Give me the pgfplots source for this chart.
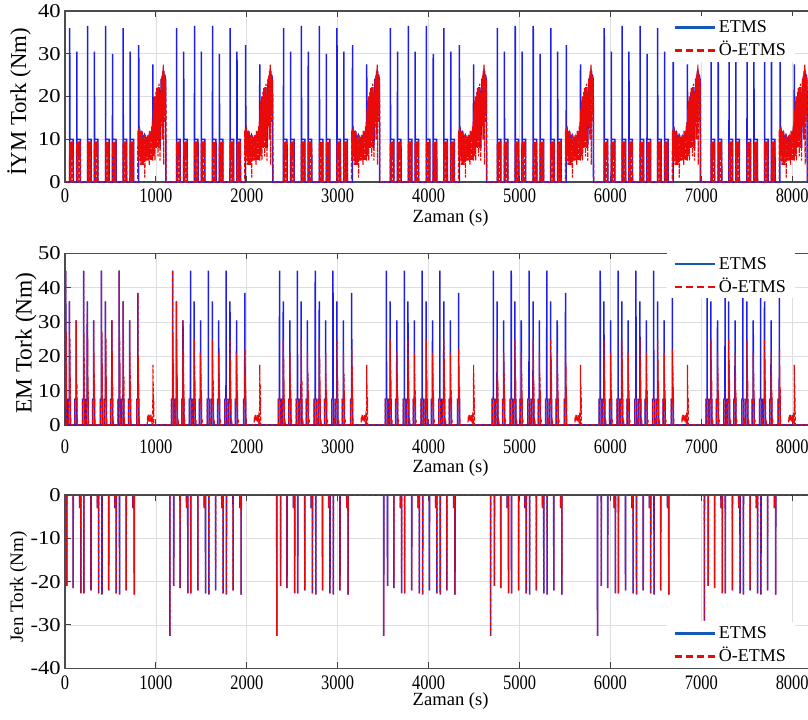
\documentclass[border=0pt]{standalone}
\usepackage{pgfplots}
\pgfplotsset{compat=1.18}
\usepackage{pgfplotstable}
\usepackage{fontspec}
\setmainfont{Liberation Serif}
\newfontfamily\xtickfont{Liberation Serif}[FakeStretch=0.8]
\newfontfamily\ytickfont{Liberation Serif}[FakeStretch=1.15]
\definecolor{dblue}{RGB}{30,30,230}
\definecolor{dred}{RGB}{235,10,10}
\definecolor{legblue}{RGB}{20,90,180}

% ---------- ICE torque, one drive cycle (local time, s) ----------
\pgfplotstableread[row sep=\\]{t v\\
0 0\\ 51 0\\ 52 36\\ 53 10\\ 90 10\\ 91 0\\
129 0\\ 130 30.5\\ 131 10\\ 168 10\\ 169 0\\
248 0\\ 249 36.5\\ 250 10\\ 287 10\\ 288 0\\
323 0\\ 324 30.5\\ 325 10\\ 362 10\\ 363 0\\
446 0\\ 447 36.5\\ 448 10\\ 485 10\\ 486 0\\
522 0\\ 523 30\\ 524 10\\ 561 10\\ 562 0\\
639 0\\ 640 36\\ 641 10\\ 678 10\\ 679 0\\
715 0\\ 716 30.5\\ 717 10\\ 754 10\\ 755 0\\
809 0\\ 811 32\\ 813 11\\ 822 12\\ 832 10.5\\ 845 11.5\\ 860 10\\ 875 11\\ 890 10\\ 905 9.5\\ 915 10.5\\ 925 9.5\\ 935 10\\ 945 11\\ 955 12\\ 965 13\\ 967 27.5\\ 969 13\\ 978 19\\ 982 8\\ 990 19\\ 998 10\\ 1006 21\\ 1014 10\\ 1026 22\\ 1034 22\\ 1046 8\\ 1058 24\\ 1066 24\\ 1074 25\\ 1082 26\\ 1090 25\\ 1098 25\\ 1106 24\\ 1110 0\\ 1176 0\\
}\iceB
\pgfplotstableread[row sep=\\]{t v\\
0 0\\
50 0\\ 51 9\\ 54 6\\ 57 9.5\\ 60 6\\ 63 9.5\\ 65 0\\ 67 9\\ 70 6\\ 73 9.5\\ 76 6\\ 79 9.5\\ 81 0\\ 83 9\\ 86 6\\ 89 9.5\\ 91 0\\
128 0\\ 129 9\\ 132 6\\ 135 9.5\\ 138 6\\ 141 9.5\\ 143 0\\ 145 9\\ 148 6\\ 151 9.5\\ 154 6\\ 157 9.5\\ 159 0\\ 161 9\\ 164 6\\ 167 9.5\\ 169 0\\
247 0\\ 248 9\\ 251 6\\ 254 9.5\\ 257 6\\ 260 9.5\\ 262 0\\ 264 9\\ 267 6\\ 270 9.5\\ 273 6\\ 276 9.5\\ 278 0\\ 280 9\\ 283 6\\ 286 9.5\\ 288 0\\
322 0\\ 323 9\\ 326 6\\ 329 9.5\\ 332 6\\ 335 9.5\\ 337 0\\ 339 9\\ 342 6\\ 345 9.5\\ 348 6\\ 351 9.5\\ 353 0\\ 355 9\\ 358 6\\ 361 9.5\\ 363 0\\
445 0\\ 446 9\\ 449 6\\ 452 9.5\\ 455 6\\ 458 9.5\\ 460 0\\ 462 9\\ 465 6\\ 468 9.5\\ 471 6\\ 474 9.5\\ 476 0\\ 478 9\\ 481 6\\ 484 9.5\\ 486 0\\
521 0\\ 522 9\\ 525 6\\ 528 9.5\\ 531 6\\ 534 9.5\\ 536 0\\ 538 9\\ 541 6\\ 544 9.5\\ 547 6\\ 550 9.5\\ 552 0\\ 554 9\\ 557 6\\ 560 9.5\\ 562 0\\
638 0\\ 639 9\\ 642 6\\ 645 9.5\\ 648 6\\ 651 9.5\\ 653 0\\ 655 9\\ 658 6\\ 661 9.5\\ 664 6\\ 667 9.5\\ 669 0\\ 671 9\\ 674 6\\ 677 9.5\\ 679 0\\
714 0\\ 715 9\\ 718 6\\ 721 9.5\\ 724 6\\ 727 9.5\\ 729 0\\ 731 9\\ 734 6\\ 737 9.5\\ 740 6\\ 743 9.5\\ 745 0\\ 747 9\\ 750 6\\ 753 9.5\\ 755 0\\
800 0\\ 802 12\\ 806 6\\ 810 12.5\\ 814 5\\ 818 13\\ 822 6\\ 826 11.5\\ 830 4\\ 834 12\\ 838 5\\ 842 11\\ 846 4\\ 850 12\\ 854 6\\ 858 10.5\\ 862 4\\ 866 11\\ 870 5\\ 874 10\\ 878 1\\ 882 11\\ 886 5\\ 890 10.5\\ 894 6\\ 898 9.5\\ 902 5\\ 906 11\\ 910 6\\ 914 10\\ 918 5\\ 922 11\\ 926 4\\ 930 12\\ 934 6\\ 938 11\\ 942 5\\ 946 12\\ 950 5\\ 954 13\\ 958 6\\ 962 14\\ 966 5\\ 970 17\\ 974 6\\ 978 19\\ 982 7\\ 986 20\\ 990 5\\ 994 19\\ 998 9\\ 1002 21\\ 1006 8\\ 1010 22\\ 1014 10\\ 1018 20\\ 1022 6\\ 1026 22\\ 1030 8\\ 1034 23\\ 1038 11\\ 1042 21\\ 1046 5\\ 1050 20\\ 1054 13\\ 1058 24\\ 1062 14\\ 1066 25\\ 1070 10\\ 1074 26\\ 1078 12\\ 1082 27.5\\ 1086 4\\ 1090 26\\ 1094 14\\ 1098 25\\ 1102 16\\ 1106 24\\ 1110 18\\ 1112 0\\ 1176 0\\
}\iceR

% ---------- EM torque ----------
\pgfplotstableread[row sep=\\]{t v\\
-4 0\\ -4 7.5\\ 7 7.5\\ 8 45\\ 9 7.5\\ 18 7.5\\ 18 0\\
37 0\\ 37 7.5\\ 48 7.5\\ 49 36\\ 50 7.5\\ 59 7.5\\ 59 0\\
110 0\\ 110 7.5\\ 121 7.5\\ 122 30.5\\ 123 7.5\\ 132 7.5\\ 132 0\\
193 0\\ 193 7.5\\ 204 7.5\\ 205 45\\ 206 7.5\\ 215 7.5\\ 215 0\\
233 0\\ 233 7.5\\ 244 7.5\\ 245 36\\ 246 7.5\\ 255 7.5\\ 255 0\\
303 0\\ 303 7.5\\ 314 7.5\\ 315 30.5\\ 316 7.5\\ 325 7.5\\ 325 0\\
389 0\\ 389 7.5\\ 400 7.5\\ 401 45\\ 402 7.5\\ 411 7.5\\ 411 0\\
433 0\\ 433 7.5\\ 444 7.5\\ 445 36\\ 446 7.5\\ 455 7.5\\ 455 0\\
503 0\\ 503 7.5\\ 514 7.5\\ 515 30.5\\ 516 7.5\\ 525 7.5\\ 525 0\\
584 0\\ 584 7.5\\ 595 7.5\\ 596 45\\ 597 7.5\\ 606 7.5\\ 606 0\\
627 0\\ 627 7.5\\ 638 7.5\\ 639 36\\ 640 7.5\\ 649 7.5\\ 649 0\\
699 0\\ 699 7.5\\ 710 7.5\\ 711 30.5\\ 712 7.5\\ 721 7.5\\ 721 0\\
790 0\\ 790 7.5\\ 801 7.5\\ 802 38.5\\ 803 7.5\\ 812 7.5\\ 812 0\\ 1176 0\\
}\emB
\pgfplotstableread[row sep=\\]{t v\\
-4 0\\ -4 7.5\\ 8 7.5\\ 9 45\\ 11 8\\ 13 27\\ 15 5\\ 17 18\\ 18 7.5\\ 18 0\\ 21 2\\ 25 0\\
37 0\\ 37 7.5\\ 49 7.5\\ 50 36\\ 52 8\\ 54 25\\ 56 5\\ 58 14\\ 59 7.5\\ 59 0\\ 62 2\\ 66 0\\
110 0\\ 110 7.5\\ 122 7.5\\ 123 30.5\\ 125 8\\ 127 21\\ 129 5\\ 131 12\\ 132 7.5\\ 132 0\\ 135 2\\ 139 0\\
193 0\\ 193 7.5\\ 205 7.5\\ 206 45\\ 208 8\\ 210 27\\ 212 5\\ 214 18\\ 215 7.5\\ 215 0\\ 218 2\\ 222 0\\
233 0\\ 233 7.5\\ 245 7.5\\ 246 36\\ 248 8\\ 250 25\\ 252 5\\ 254 14\\ 255 7.5\\ 255 0\\ 258 2\\ 262 0\\
303 0\\ 303 7.5\\ 315 7.5\\ 316 30.5\\ 318 8\\ 320 21\\ 322 5\\ 324 12\\ 325 7.5\\ 325 0\\ 328 2\\ 332 0\\
389 0\\ 389 7.5\\ 401 7.5\\ 402 45\\ 404 8\\ 406 27\\ 408 5\\ 410 18\\ 411 7.5\\ 411 0\\ 414 2\\ 418 0\\
433 0\\ 433 7.5\\ 445 7.5\\ 446 36\\ 448 8\\ 450 25\\ 452 5\\ 454 14\\ 455 7.5\\ 455 0\\ 458 2\\ 462 0\\
503 0\\ 503 7.5\\ 515 7.5\\ 516 30.5\\ 518 8\\ 520 21\\ 522 5\\ 524 12\\ 525 7.5\\ 525 0\\ 528 2\\ 532 0\\
584 0\\ 584 7.5\\ 596 7.5\\ 597 45\\ 599 8\\ 601 27\\ 603 5\\ 605 18\\ 606 7.5\\ 606 0\\ 609 2\\ 613 0\\
627 0\\ 627 7.5\\ 639 7.5\\ 640 36\\ 642 8\\ 644 25\\ 646 5\\ 648 14\\ 649 7.5\\ 649 0\\ 652 2\\ 656 0\\
699 0\\ 699 7.5\\ 711 7.5\\ 712 30.5\\ 714 8\\ 716 21\\ 718 5\\ 720 12\\ 721 7.5\\ 721 0\\ 724 2\\ 728 0\\
790 0\\ 790 7.5\\ 802 7.5\\ 803 38.5\\ 805 8\\ 807 20\\ 809 5\\ 811 12\\ 812 7.5\\ 812 0\\ 815 2\\ 819 0\\
905 0\\ 908 2.5\\ 912 1\\ 916 3\\ 920 1.5\\ 925 3\\ 930 1\\ 935 2.5\\ 940 1\\ 945 3\\ 950 1.5\\ 955 2.5\\ 960 1\\ 964 0\\ 966 0\\ 967 17.5\\ 969 5\\ 971 12\\ 973 3\\ 975 8\\ 977 0\\ 1176 0\\
}\emRhigh
\pgfplotstableread[row sep=\\]{t v\\
-4 0\\ -4 7.5\\ 18 7.5\\ 18 0\\ 21 1.5\\ 24 0.5\\ 27 2\\ 30 0\\
37 0\\ 37 7.5\\ 49 7.5\\ 50 25\\ 52 6\\ 54 19\\ 56 4\\ 58 13\\ 59 7.5\\ 59 0\\ 62 2\\ 65 0.5\\ 68 1.5\\ 71 0\\
110 0\\ 110 7.5\\ 122 7.5\\ 123 21\\ 125 6\\ 127 15\\ 129 4\\ 131 10\\ 132 7.5\\ 132 0\\ 135 2\\ 138 0.5\\ 141 1.5\\ 144 0\\
193 0\\ 193 7.5\\ 215 7.5\\ 215 0\\ 218 1.5\\ 221 0.5\\ 224 2\\ 227 0\\
233 0\\ 233 7.5\\ 245 7.5\\ 246 25\\ 248 6\\ 250 19\\ 252 4\\ 254 13\\ 255 7.5\\ 255 0\\ 258 2\\ 261 0.5\\ 264 1.5\\ 267 0\\
303 0\\ 303 7.5\\ 315 7.5\\ 316 21\\ 318 6\\ 320 15\\ 322 4\\ 324 10\\ 325 7.5\\ 325 0\\ 328 2\\ 331 0.5\\ 334 1.5\\ 337 0\\
389 0\\ 389 7.5\\ 411 7.5\\ 411 0\\ 414 1.5\\ 417 0.5\\ 420 2\\ 423 0\\
433 0\\ 433 7.5\\ 445 7.5\\ 446 25\\ 448 6\\ 450 19\\ 452 4\\ 454 13\\ 455 7.5\\ 455 0\\ 458 2\\ 461 0.5\\ 464 1.5\\ 467 0\\
503 0\\ 503 7.5\\ 515 7.5\\ 516 21\\ 518 6\\ 520 15\\ 522 4\\ 524 10\\ 525 7.5\\ 525 0\\ 528 2\\ 531 0.5\\ 534 1.5\\ 537 0\\
584 0\\ 584 7.5\\ 606 7.5\\ 606 0\\ 609 1.5\\ 612 0.5\\ 615 2\\ 618 0\\
627 0\\ 627 7.5\\ 639 7.5\\ 640 25\\ 642 6\\ 644 19\\ 646 4\\ 648 13\\ 649 7.5\\ 649 0\\ 652 2\\ 655 0.5\\ 658 1.5\\ 661 0\\
699 0\\ 699 7.5\\ 711 7.5\\ 712 21\\ 714 6\\ 716 15\\ 718 4\\ 720 10\\ 721 7.5\\ 721 0\\ 724 2\\ 727 0.5\\ 730 1.5\\ 733 0\\
790 0\\ 790 7.5\\ 802 7.5\\ 803 22\\ 805 6\\ 807 17\\ 809 4\\ 811 11\\ 812 7.5\\ 812 0\\ 815 2\\ 819 0\\
905 0\\ 908 2.5\\ 912 1\\ 916 3\\ 920 1.5\\ 925 3\\ 930 1\\ 935 2.5\\ 940 1\\ 945 3\\ 950 1.5\\ 955 2.5\\ 960 1\\ 964 0\\ 966 0\\ 967 17.5\\ 969 5\\ 971 12\\ 973 3\\ 975 8\\ 977 0\\ 1176 0\\
}\emRlow

% ---------- Generator torque ----------
\pgfplotstableread[row sep=\\]{t v\\
0 0\\ 19 0\\ 20 -21\\ 21 0\\ 89 0\\ 90 -21.5\\ 91 0\\
160 0\\ 161 -3\\ 163 -0.5\\ 165 -3\\ 167 -0.5\\ 169 -3\\ 171 0\\ 174 0\\ 175 -22.7\\ 176 0\\
207 0\\ 208 -22.7\\ 209 0\\ 285 0\\ 286 -22\\ 287 0\\
355 0\\ 356 -3\\ 358 -0.5\\ 360 -3\\ 362 -0.5\\ 364 -3\\ 366 0\\ 369 0\\ 370 -22.7\\ 371 0\\
406 0\\ 407 -23\\ 408 0\\ 480 0\\ 481 -22\\ 482 0\\
548 0\\ 549 -3\\ 551 -0.5\\ 553 -3\\ 555 -0.5\\ 557 -3\\ 559 0\\ 562 0\\ 563 -22.7\\ 564 0\\
599 0\\ 600 -23\\ 601 0\\ 672 0\\ 673 -22\\ 674 0\\
747 0\\ 748 -3\\ 750 -0.5\\ 752 -3\\ 754 -0.5\\ 756 -3\\ 758 0\\ 761 0\\ 762 -23\\ 763 0\\ 1176 0\\
}\gen
\pgfplotstableread[row sep=\\]{t v\\
0 0\\ 2 0\\ 3 -21\\ 4 0\\ 1153 0\\ 1154 -32.5\\ 1155 0\\ 2329 0\\ 2330 -32.5\\ 2331 0\\
3505 0\\ 3506 -32.5\\ 3507 0\\ 4681 0\\ 4682 -32.5\\ 4683 0\\ 5857 0\\ 5858 -32.5\\ 5859 0\\
7033 0\\ 7034 -29\\ 7035 0\\ 8400 0\\
}\genEnd

\pgfplotsset{
  panel/.style={
    scale only axis, width=381.8pt, xmin=0, xmax=8400,
    xtick={0,1000,2000,3000,4000,5000,6000,7000,8000},
    grid=major, major grid style={draw=black!13, line width=0.4pt},
    axis line style={draw=black!70, line width=0.6pt},
    tick align=inside, major tick length=3pt,
    every tick/.style={black!75, line width=0.5pt},
    /pgf/number format/assume math mode=true,
    /pgf/number format/1000 sep={},
    scaled ticks=false,
    xticklabel style={font=\fontsize{10.3}{12}\xtickfont},
    yticklabel style={font=\fontsize{9.8}{12}\ytickfont, inner xsep=2pt},
    xlabel={Zaman (s)},
    xlabel style={font=\fontsize{9.3}{11}\selectfont, at={(axis description cs:0.505,0)}, anchor=center},
    legend image code/.code={\draw[##1, line width=1.4pt] (0pt,0pt) -- (20pt,0pt);},
    legend style={draw=none, fill=white, font=\fontsize{9}{10}\selectfont, anchor=north west,
      inner xsep=3pt, inner ysep=0.5pt, row sep=1pt,
      nodes={inner sep=1.5pt, text height=6.5pt, text depth=1pt}},
    legend cell align=left,
  },
  bl/.style={dblue, line width=0.75pt, forget plot},
  rd/.style={dred, line width=0.6pt, dash pattern=on 2pt off 1pt, forget plot},
}

\begin{document}
\begin{tikzpicture}
% ===== Panel 1: ICE torque =====
\begin{axis}[panel, at={(32.5pt,268.5pt)}, anchor=south west, height=85.5pt,
  ymin=0, ymax=40, ytick={0,10,20,30,40},
  ylabel={İYM Tork (Nm)},
  ylabel style={at={(axis description cs:-0.0602,0.468)}, anchor=center, font=\fontsize{11.4}{13}\selectfont},
  xlabel style={yshift=-18pt},
  legend style={at={(0.788,0.974)}}]
\pgfplotsinvokeforeach{0,1176,2352,3528,4704,5880,7056}{
  \addplot[bl] table[x expr=\thisrow{t}+#1, y=v]{\iceB};
}
\pgfplotsinvokeforeach{0,1176,2352,3528,4704,5880,7056}{
  \addplot[rd] table[x expr=\thisrow{t}+#1, y=v]{\iceR};
}
\addlegendimage{legblue, solid}
\addlegendentry{ETMS}
\addlegendimage{dred, dash pattern=on 3.5pt off 2pt}
\addlegendentry{Ö-ETMS}
\end{axis}

% ===== Panel 2: EM torque =====
\begin{axis}[panel, at={(32.5pt,147pt)}, anchor=south west, height=85.8pt,
  ymin=0, ymax=50, ytick={0,10,20,30,40,50},
  ylabel={EM Tork (Nm)},
  ylabel style={at={(axis description cs:-0.0511,0.478)}, anchor=center, font=\fontsize{11.7}{13}\selectfont},
  xlabel style={yshift=-21.5pt},
  xticklabel style={yshift=-4pt},
  legend style={at={(0.788,1.008)}}]
\pgfplotsinvokeforeach{0,1176,2352,3528,4704,5880,7056}{
  \addplot[bl] table[x expr=\thisrow{t}+#1, y=v]{\emB};
}
\addplot[rd] table[x=t, y=v]{\emRhigh};
\pgfplotsinvokeforeach{1176,2352,3528,4704,5880,7056}{
  \addplot[rd] table[x expr=\thisrow{t}+#1, y=v]{\emRlow};
}
\addplot[rd, restrict x to domain=1170:1320] table[x expr=\thisrow{t}+1176, y=v]{\emRhigh};
\addlegendimage{legblue, solid}
\addlegendentry{ETMS}
\addlegendimage{dred, dash pattern=on 3.5pt off 2pt}
\addlegendentry{Ö-ETMS}
\end{axis}

% ===== Panel 3: Generator torque =====
\begin{axis}[panel, at={(32.5pt,25.35pt)}, anchor=south west, height=86.65pt,
  ymin=-40, ymax=0, ytick={-40,-30,-20,-10,0},
  ylabel={Jen Tork (Nm)},
  ylabel style={at={(axis description cs:-0.0609,0.469)}, anchor=center, font=\fontsize{9.5}{11}\selectfont},
  xlabel style={yshift=-16.6pt},
  legend style={at={(0.788,0.27)}}]
\pgfplotsinvokeforeach{0,1176,2352,3528,4704,5880,7056}{
  \addplot[bl] table[x expr=\thisrow{t}+#1, y=v]{\gen};
}
\addplot[bl] table[x=t, y=v]{\genEnd};
\pgfplotsinvokeforeach{0,1176,2352,3528,4704,5880,7056}{
  \addplot[rd] table[x expr=\thisrow{t}+#1, y=v]{\gen};
}
\addplot[rd] table[x=t, y=v]{\genEnd};
\addlegendimage{legblue, solid}
\addlegendentry{ETMS}
\addlegendimage{dred, dash pattern=on 3.5pt off 2pt}
\addlegendentry{Ö-ETMS}
\end{axis}

\pgfresetboundingbox
\useasboundingbox (0pt,0pt) rectangle (404pt,359.5pt);
\end{tikzpicture}
\end{document}
